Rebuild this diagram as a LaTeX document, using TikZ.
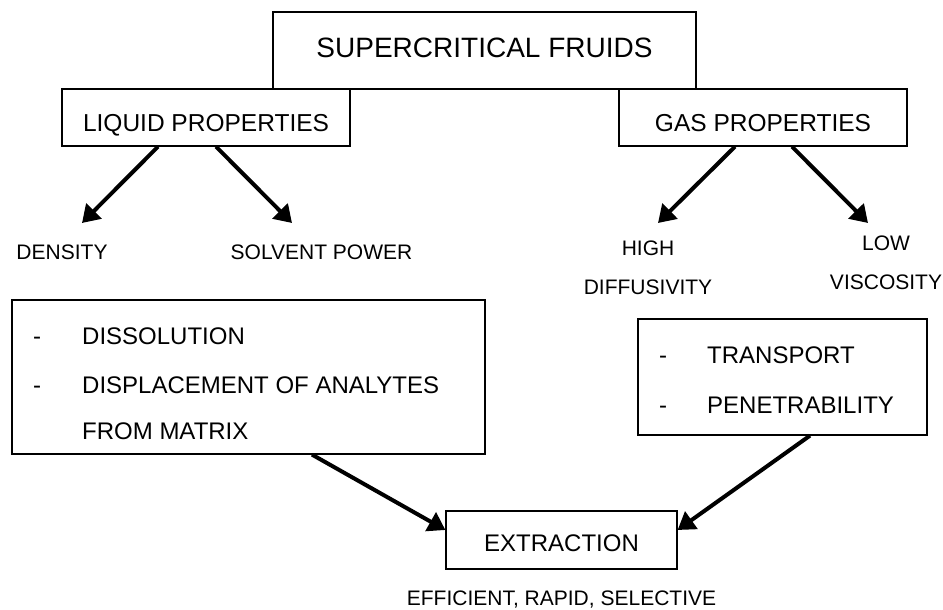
\documentclass[tikz,border=0pt]{standalone}
\usepackage{fontspec}
\setmainfont{Liberation Sans}
\usetikzlibrary{arrows.meta}

\tikzset{
    box/.style={draw, line width=1.2pt, inner sep=0pt},
    subbox/.style={box, minimum width=288pt, minimum height=57pt, font=\fontsize{24.5}{29}\selectfont, text height=27.5pt, text depth=0pt},
    lbl/.style={inner sep=0pt, text depth=0pt, font=\fontsize{21}{39}\selectfont},
    item/.style={inner sep=0pt, font=\fontsize{24}{29}\selectfont},
    arr/.style={->, line width=4pt},
}

\begin{document}
\begin{tikzpicture}[x=1pt, y=-1pt, >={Triangle[length=17pt, width=21pt]}]
            \useasboundingbox (0,0) rectangle (943,610);
            \node[box, minimum width=423pt, minimum height=77pt, font=\fontsize{28}{34}\selectfont, text height=20pt, text depth=5pt] (scf) at (484.5,50.5) {SUPERCRITICAL FRUIDS};
            \node[subbox] (liq) at (206,117.5) {LIQUID PROPERTIES};
            \node[subbox] (gas) at (763,117.5) {GAS PROPERTIES};
            % property labels
            \node[lbl] (dens) at (62,252) {DENSITY};
            \node[lbl] (solv) at (321.5,252) {SOLVENT POWER};
            \node[lbl, align=center] (diff) at (648,267.5) {HIGH\\DIFFUSIVITY};
            \node[lbl, align=center] (visc) at (886,263) {LOW\\VISCOSITY};
            \coordinate (densTip) at (82,223);
            \coordinate (solvTip) at (292,223);
            \coordinate (diffTip) at (658,223);
            \coordinate (viscTip) at (868,223);
            \draw[arr] ([xshift=-48pt]liq.south) -- (densTip);
            \draw[arr] ([xshift=10pt]liq.south) -- (solvTip);
            \draw[arr] ([xshift=-28pt]gas.south) -- (diffTip);
            \draw[arr] ([xshift=29pt]gas.south) -- (viscTip);
            % effect boxes
            \node[box, minimum width=473pt, minimum height=154pt] (disp) at (248.5,377) {};
            \node[item, anchor=base] (dA) at (37,344.6) {-};
            \node[item, anchor=base west] (dissol) at (82,344.6) {DISSOLUTION};
            \node[item, anchor=base] (dB) at (37,393.6) {-};
            \node[item, anchor=base west] (displ) at (82,393.6) {DISPLACEMENT OF ANALYTES};
            \node[item, anchor=base west] (matrix) at (82,439.6) {FROM MATRIX};
            \node[box, minimum width=289pt, minimum height=116pt] (trans) at (782.5,377) {};
            \node[item, anchor=base] (tA) at (663,363.6) {-};
            \node[item, anchor=base west] (transp) at (707,363.6) {TRANSPORT};
            \node[item, anchor=base] (tB) at (663,413.6) {-};
            \node[item, anchor=base west] (penet) at (707,413.6) {PENETRABILITY};
            % result
            \node[box, minimum width=231pt, minimum height=58pt, font=\fontsize{24}{29}\selectfont, text height=23pt, text depth=0pt] (ext) at (561.5,540) {EXTRACTION};
            \node[lbl] (eff) at (561.5,598.5) {EFFICIENT, RAPID, SELECTIVE};
            \draw[arr] ([xshift=63.5pt]disp.south) -- ([yshift=10pt]ext.west);
            \draw[arr] ([xshift=27.5pt]trans.south) -- ([yshift=10pt]ext.east);
        \end{tikzpicture}
\end{document}
